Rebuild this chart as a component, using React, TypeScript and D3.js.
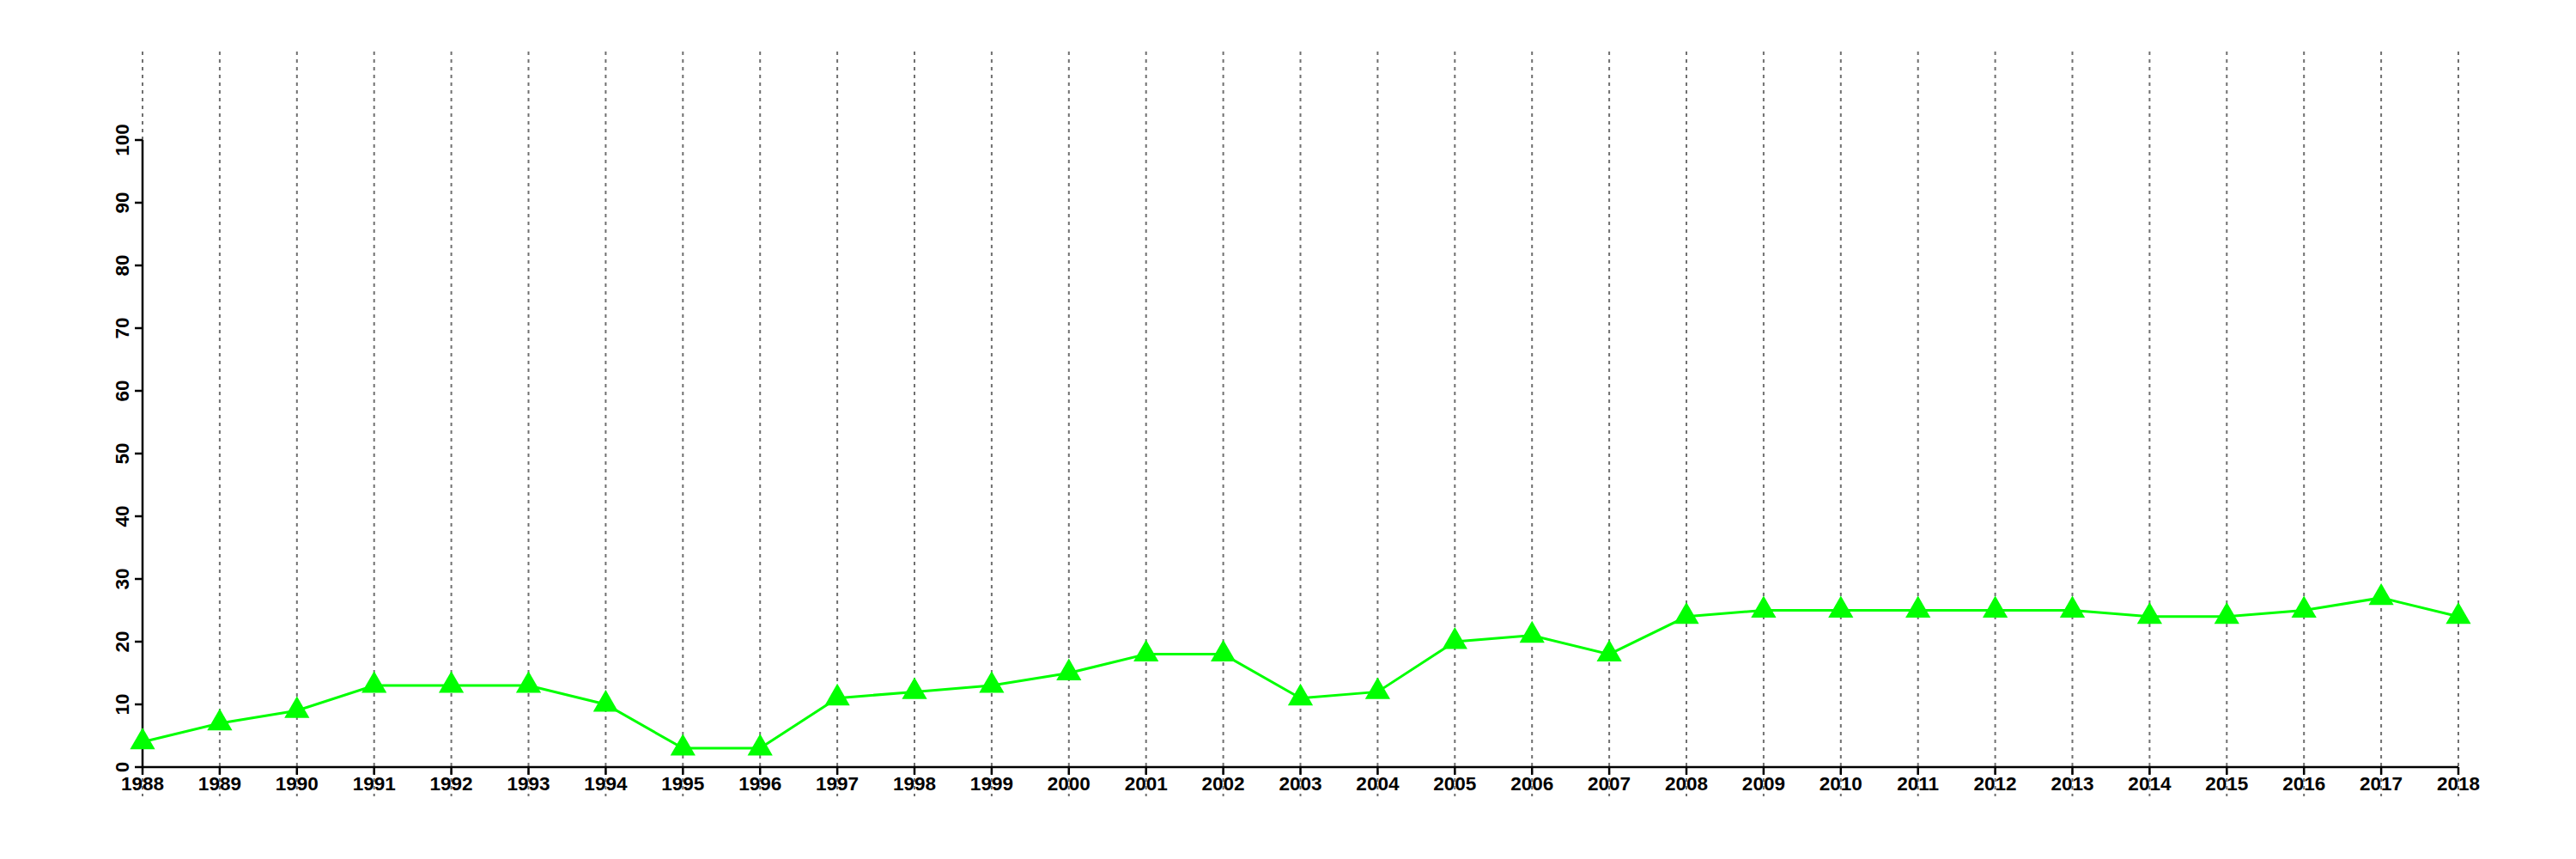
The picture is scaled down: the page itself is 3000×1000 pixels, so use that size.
import * as d3 from 'd3';

const years = d3.range(1988, 2019);
const values = [
  4, 7, 9, 13, 13, 13, 10, 3, 3, 11, 12, 13, 15, 18, 18, 11, 12, 20, 21, 18,
  24, 25, 25, 25, 25, 25, 24, 24, 25, 27, 24,
];
const yTicks = [0, 10, 20, 30, 40, 50, 60, 70, 80, 90, 100];

export default function App(): JSX.Element {
  const width = 3000;
  const height = 1000;
  const font = '"Liberation Sans", Arial, Helvetica, sans-serif';

  const x = d3.scaleLinear().domain([1988, 2018]).range([166, 2863]);
  const y = d3.scaleLinear().domain([0, 100]).range([893, 163]);

  const line = d3.line<number>()
    .x((_, i) => x(years[i]))
    .y(d => y(d));

  const tri = d3.symbol(d3.symbolTriangle, 370)() || '';

  return (
    <svg
      width={width}
      height={height}
      style={{ position: 'absolute', left: 0, top: 0, background: 'white' }}
    >
      {/* vertical dotted grid */}
      {years.map(yr => (
        <line
          key={'g' + yr}
          x1={x(yr)}
          x2={x(yr)}
          y1={60}
          y2={927}
          stroke="#707070"
          strokeWidth={2}
          strokeDasharray="4,5"
        />
      ))}

      {/* x axis */}
      <g>
        <line x1={x(1988)} x2={x(2018)} y1={y(0)} y2={y(0)} stroke="black" strokeWidth={2.5} />
        {years.map(yr => (
          <g key={'x' + yr} transform={`translate(${x(yr)},${y(0)})`}>
            <line y2={9} stroke="black" strokeWidth={2.5} />
            <text
              y={27}
              textAnchor="middle"
              fontFamily={font}
              fontWeight="bold"
              fontSize={22.5}
            >
              {yr}
            </text>
          </g>
        ))}
      </g>

      {/* y axis */}
      <g>
        <line x1={x(1988)} x2={x(1988)} y1={y(0)} y2={y(100)} stroke="black" strokeWidth={2.5} />
        {yTicks.map(t => (
          <g key={'y' + t} transform={`translate(${x(1988)},${y(t)})`}>
            <line x2={-9} stroke="black" strokeWidth={2.5} />
            <text
              transform="translate(-16,0) rotate(-90)"
              textAnchor="middle"
              fontFamily={font}
              fontWeight="bold"
              fontSize={22.5}
            >
              {t}
            </text>
          </g>
        ))}
      </g>

      {/* series */}
      <path d={line(values) || ''} fill="none" stroke="#00ff00" strokeWidth={3} />
      {values.map((v, i) => (
        <path
          key={'p' + i}
          d={tri}
          transform={`translate(${x(years[i])},${y(v)})`}
          fill="#00ff00"
        />
      ))}
    </svg>
  );
}
